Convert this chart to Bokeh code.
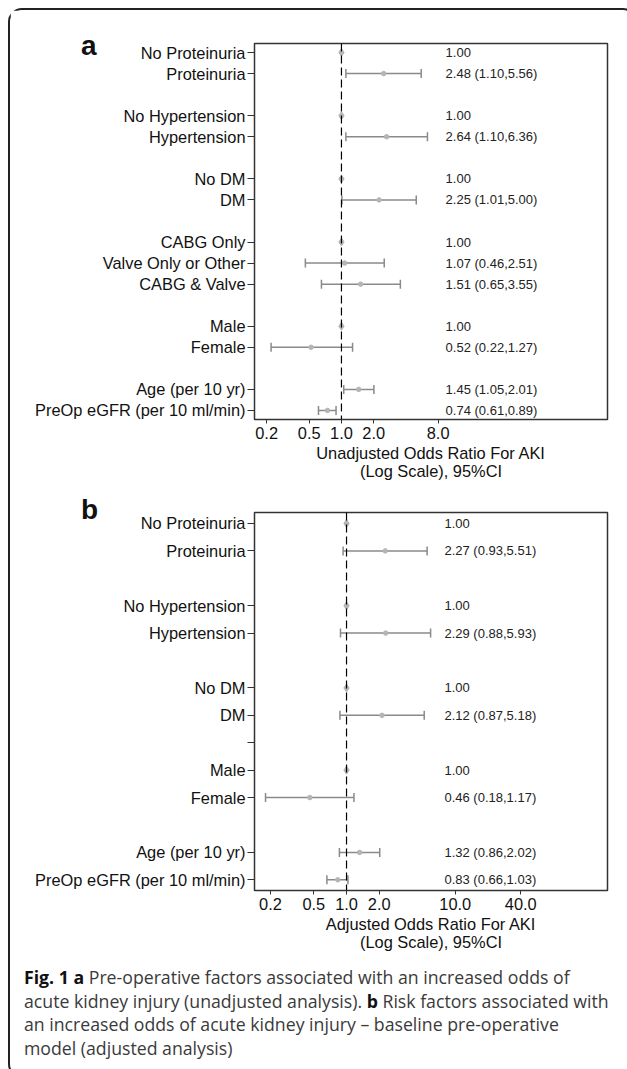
import numpy as np
from bokeh.plotting import figure
from bokeh.models import (Range1d, FixedTicker, CustomJSTickFormatter, ColumnDataSource,
                          Div, Span)
from bokeh.layouts import column
from bokeh.embed import file_html
from bokeh.resources import INLINE
from bokeh.core.properties import value

# ---------------- data: panel a (unadjusted) ----------------
labels_a = ["No Proteinuria", "Proteinuria", "No Hypertension", "Hypertension",
            "No DM", "DM", "CABG Only", "Valve Only or Other", "CABG & Valve",
            "Male", "Female", "Age (per 10 yr)", "PreOp eGFR (per 10 ml/min)"]
rows_a = [0, 1, 3, 4, 6, 7, 9, 10, 11, 13, 14, 16, 17]
or_a = [1.00, 2.48, 1.00, 2.64, 1.00, 2.25, 1.00, 1.07, 1.51, 1.00, 0.52, 1.45, 0.74]
lo_a = [1.00, 1.10, 1.00, 1.10, 1.00, 1.01, 1.00, 0.46, 0.65, 1.00, 0.22, 1.05, 0.61]
hi_a = [1.00, 5.56, 1.00, 6.36, 1.00, 5.00, 1.00, 2.51, 3.55, 1.00, 1.27, 2.01, 0.89]
ref_a = [True, False, True, False, True, False, True, False, False, True, False, False, False]
ticks_a = [0.2, 0.5, 1.0, 2.0, 8.0]
xlab_a = "Unadjusted Odds Ratio For AKI\n(Log Scale), 95%CI"

# ---------------- data: panel b (adjusted) ----------------
labels_b = ["No Proteinuria", "Proteinuria", "No Hypertension", "Hypertension",
            "No DM", "DM", "Male", "Female", "Age (per 10 yr)", "PreOp eGFR (per 10 ml/min)"]
rows_b = [0, 1, 3, 4, 6, 7, 9, 10, 12, 13]
or_b = [1.00, 2.27, 1.00, 2.29, 1.00, 2.12, 1.00, 0.46, 1.32, 0.83]
lo_b = [1.00, 0.93, 1.00, 0.88, 1.00, 0.87, 1.00, 0.18, 0.86, 0.66]
hi_b = [1.00, 5.51, 1.00, 5.93, 1.00, 5.18, 1.00, 1.17, 2.02, 1.03]
ref_b = [True, False, True, False, True, False, True, False, False, False]
extra_tick_rows_b = [8]   # unlabeled tick
ticks_b = [0.2, 0.5, 1.0, 2.0, 10.0, 40.0]
xlab_b = "Adjusted Odds Ratio For AKI\n(Log Scale), 95%CI"

FONT = "Liberation Sans"
FS = "16.4px"
LINE_GREY = "#8a8a8a"
PT_GREY = "#b5b5b5"


def make_panel(labels, rows, ors, los, his, refs, ticks, xlab, xr, yr,
               frame_h, top, bottom, text_x, extra_rows=()):
    p = figure(width=615, height=top + frame_h + bottom,
               x_axis_type="log", x_range=Range1d(*xr), y_range=Range1d(*yr),
               output_backend="svg", toolbar_location=None,
               min_border_left=244, min_border_right=18,
               min_border_top=top, min_border_bottom=bottom,
               frame_width=353, frame_height=frame_h)
    p.background_fill_color = "white"
    p.border_fill_color = "white"
    p.outline_line_color = "#333333"
    p.outline_line_width = 1.5
    p.grid.visible = False

    # reference line at OR = 1
    p.add_layout(Span(location=1.0, dimension="height", line_color="black",
                      line_width=1.2, line_dash="8 4"))

    est = [i for i in range(len(rows)) if not refs[i]]
    ref = [i for i in range(len(rows)) if refs[i]]
    src = ColumnDataSource(dict(
        y=[rows[i] for i in est], o=[ors[i] for i in est],
        lo=[los[i] for i in est], hi=[his[i] for i in est]))
    rsrc = ColumnDataSource(dict(y=[rows[i] for i in ref], o=[ors[i] for i in ref]))

    p.segment(x0="lo", x1="hi", y0="y", y1="y", source=src,
              line_color=LINE_GREY, line_width=1.5)
    p.scatter(x="lo", y="y", source=src, marker="dash", angle=np.pi / 2,
              size=9, line_color=LINE_GREY, line_width=1.5)
    p.scatter(x="hi", y="y", source=src, marker="dash", angle=np.pi / 2,
              size=9, line_color=LINE_GREY, line_width=1.5)
    p.scatter(x="o", y="y", source=src, marker="circle", size=4.5,
              fill_color=PT_GREY, line_color=PT_GREY)
    p.scatter(x="o", y="y", source=rsrc, marker="diamond", size=8,
              fill_color=PT_GREY, line_color=PT_GREY)

    texts = [("1.00" if refs[i] else f"{ors[i]:.2f} ({los[i]:.2f},{his[i]:.2f})")
             for i in range(len(rows))]
    tsrc = ColumnDataSource(dict(x=[text_x] * len(rows), y=rows, t=texts))
    p.text(x="x", y="y", text="t", source=tsrc, text_font=value(FONT),
           text_font_size="13px", text_color="#222222", text_baseline="middle",
           text_align="left")

    # y axis
    yt = list(rows) + list(extra_rows)
    p.yaxis.ticker = FixedTicker(ticks=yt)
    ov = {int(r): lab for r, lab in zip(rows, labels)}
    for r in extra_rows:
        ov[int(r)] = ""
    p.yaxis.major_label_overrides = ov
    p.yaxis.axis_line_color = None
    p.yaxis.major_tick_in = 0
    p.yaxis.major_tick_out = 7
    p.yaxis.major_tick_line_color = "#333333"
    p.yaxis.minor_tick_line_color = None
    p.yaxis.major_label_standoff = 2
    p.yaxis.major_label_text_font = FONT
    p.yaxis.major_label_text_font_size = FS
    p.yaxis.major_label_text_color = "#111111"

    # x axis
    p.xaxis.ticker = FixedTicker(ticks=ticks)
    p.xaxis.formatter = CustomJSTickFormatter(code="return tick.toFixed(1)")
    p.xaxis.axis_line_color = None
    p.xaxis.major_tick_in = 0
    p.xaxis.major_tick_out = 4
    p.xaxis.major_tick_line_color = "#333333"
    p.xaxis.minor_tick_line_color = None
    p.xaxis.major_label_standoff = 3
    p.xaxis.major_label_text_font = FONT
    p.xaxis.major_label_text_font_size = FS
    p.xaxis.major_label_text_color = "#111111"
    p.xaxis.axis_label = xlab
    p.xaxis.axis_label_text_font = FONT
    p.xaxis.axis_label_text_font_size = FS
    p.xaxis.axis_label_text_font_style = "normal"
    p.xaxis.axis_label_text_color = "#111111"
    p.xaxis.axis_label_text_line_height = 1.0
    p.xaxis.axis_label_standoff = 2
    return p


pa = make_panel(labels_a, rows_a, or_a, lo_a, hi_a, ref_a, ticks_a, xlab_a,
                xr=(0.154, 306.0), yr=(17.43, -0.43), frame_h=376, top=33,
                bottom=66, text_x=9.4)
pb = make_panel(labels_b, rows_b, or_b, lo_b, hi_b, ref_b, ticks_b, xlab_b,
                xr=(0.1425, 251.0), yr=(13.39, -0.40), frame_h=378, top=27,
                bottom=66, text_x=7.95, extra_rows=extra_tick_rows_b)

LETTER = ('<span style="position:absolute; left:{left}px; top:{top}px; '
          'font-family:\'Liberation Sans\'; font-weight:bold; font-size:28px; '
          'line-height:28px; color:#111;">{t}</span>')
caption = Div(
    text=('<div style="position:relative">' +
          LETTER.format(left=57, top=-934, t="a") +
          LETTER.format(left=57, top=-470, t="b") +
          '<b style="color:#111">Fig. 1</b> <b style="color:#111">a</b> Pre-operative factors '
          'associated with an increased odds of<br>acute kidney injury (unadjusted analysis). '
          '<b style="color:#111">b</b> Risk factors associated with<br>an increased odds of '
          'acute kidney injury \u2013 baseline pre-operative<br>model (adjusted analysis)</div>'),
    width=615, height=110,
    styles={"font-family": "Open Sans", "font-size": "17.7px", "line-height": "23.5px",
            "color": "#3a3a3a", "padding-left": "9px", "padding-top": "5px",
            "box-sizing": "border-box", "white-space": "nowrap", "overflow": "visible"})

layout = column(pa, pb, caption,
                styles={"border": "2px solid #222", "border-radius": "14px",
                        "background": "white", "margin": "8px 0 0 8px"})

open("out.html", "w").write(file_html(layout, INLINE))
